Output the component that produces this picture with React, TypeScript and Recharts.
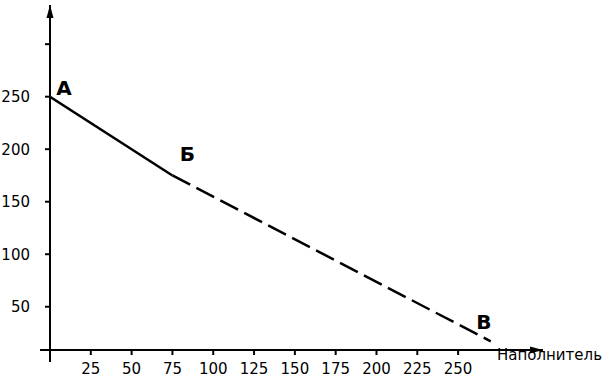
import React from "react";
import { LineChart, Line, XAxis, YAxis, ReferenceLine, ReferenceDot } from "recharts";

// filler amount (x) and the two parts of the curve
const filler = [0, 75, 270];
const solidPart = [250, 175, null];
const dashedPart = [null, 175, 17];
const pointNames = ["А", "Б", "В"];
const xTicks = [25, 50, 75, 100, 125, 150, 175, 200, 225, 250];
const yTicks = [50, 100, 150, 200, 250, 300];
const xAxisTitle = "Наполнитель";

const data = filler.map((x, i) => ({ x, solid: solidPart[i], dashed: dashedPart[i] }));
const pointValues = filler.map((x, i) => (solidPart[i] ?? dashedPart[i]) as number);

// where each letter sits relative to its point
const letterOffsets = [
  { dx: 14, dy: -9 },
  { dx: 15, dy: -21 },
  { dx: -7, dy: -19 },
];

const FONT = "'DejaVu Sans', sans-serif";
const X_MIN = 0;
const X_MAX = 302;
const Y_MIN = 8.8;
const Y_MAX = 337.3;

const tickStyle = { fontSize: 15, fill: "#000", fontFamily: FONT };

export default function App() {
  return (
    <div style={{ position: "absolute", left: 0, top: 0, background: "#fff" }}>
      <LineChart
        width={609}
        height={379}
        data={data}
        margin={{ top: 5, right: 66, left: 9, bottom: 0 }}
      >
        <XAxis
          dataKey="x"
          type="number"
          domain={[X_MIN, X_MAX]}
          ticks={xTicks}
          allowDataOverflow
          height={29}
          tickSize={5}
          tickMargin={8}
          tick={tickStyle}
          axisLine={{ stroke: "#000", strokeWidth: 2 }}
          tickLine={{ stroke: "#000", strokeWidth: 2 }}
          label={(props: any) => {
            const vb = props.viewBox;
            return (
              <text
                x={vb.x + vb.width - 46}
                y={vb.y + 10}
                fontSize={15}
                fontFamily={FONT}
                fill="#000"
              >
                {xAxisTitle}
              </text>
            );
          }}
        />
        <YAxis
          type="number"
          domain={[Y_MIN, Y_MAX]}
          ticks={yTicks}
          allowDataOverflow
          width={41}
          tickSize={5}
          tickMargin={15}
          tick={tickStyle}
          tickFormatter={(v) => (v === 300 ? "" : `${v}`)}
          axisLine={{ stroke: "#000", strokeWidth: 2 }}
          tickLine={{ stroke: "#000", strokeWidth: 2 }}
        />
        {/* axis stubs past the origin */}
        <ReferenceLine
          segment={[{ x: -6.1, y: Y_MIN }, { x: 0, y: Y_MIN }]}
          stroke="#000"
          strokeWidth={2}
          ifOverflow="visible"
        />
        <ReferenceLine
          segment={[{ x: X_MIN, y: -2.6 }, { x: X_MIN, y: Y_MIN }]}
          stroke="#000"
          strokeWidth={2}
          ifOverflow="visible"
        />
        {/* arrow heads */}
        <ReferenceDot
          x={X_MAX}
          y={Y_MIN}
          ifOverflow="visible"
          shape={(p: any) => (
            <polygon
              points={`${p.cx},${p.cy} ${p.cx - 13},${p.cy - 3.5} ${p.cx - 13},${p.cy + 3.5}`}
              fill="#000"
            />
          )}
        />
        <ReferenceDot
          x={X_MIN}
          y={Y_MAX}
          ifOverflow="visible"
          shape={(p: any) => (
            <polygon
              points={`${p.cx},${p.cy} ${p.cx - 3.5},${p.cy + 13} ${p.cx + 3.5},${p.cy + 13}`}
              fill="#000"
            />
          )}
        />
        <Line
          dataKey="solid"
          type="linear"
          stroke="#000"
          strokeWidth={2.5}
          dot={false}
          activeDot={false}
          connectNulls={false}
          isAnimationActive={false}
        />
        <Line
          dataKey="dashed"
          type="linear"
          stroke="#000"
          strokeWidth={2.5}
          strokeDasharray="20 7"
          dot={false}
          activeDot={false}
          connectNulls={false}
          isAnimationActive={false}
        />
        {filler.map((x, i) => (
          <ReferenceDot
            key={pointNames[i]}
            x={x}
            y={pointValues[i]}
            ifOverflow="visible"
            shape={(p: any) => (
              <text
                x={p.cx + letterOffsets[i].dx}
                y={p.cy + letterOffsets[i].dy}
                textAnchor="middle"
                dominantBaseline="central"
                fontSize={20}
                fontWeight="bold"
                fontFamily={FONT}
                fill="#000"
              >
                {pointNames[i]}
              </text>
            )}
          />
        ))}
      </LineChart>
    </div>
  );
}
